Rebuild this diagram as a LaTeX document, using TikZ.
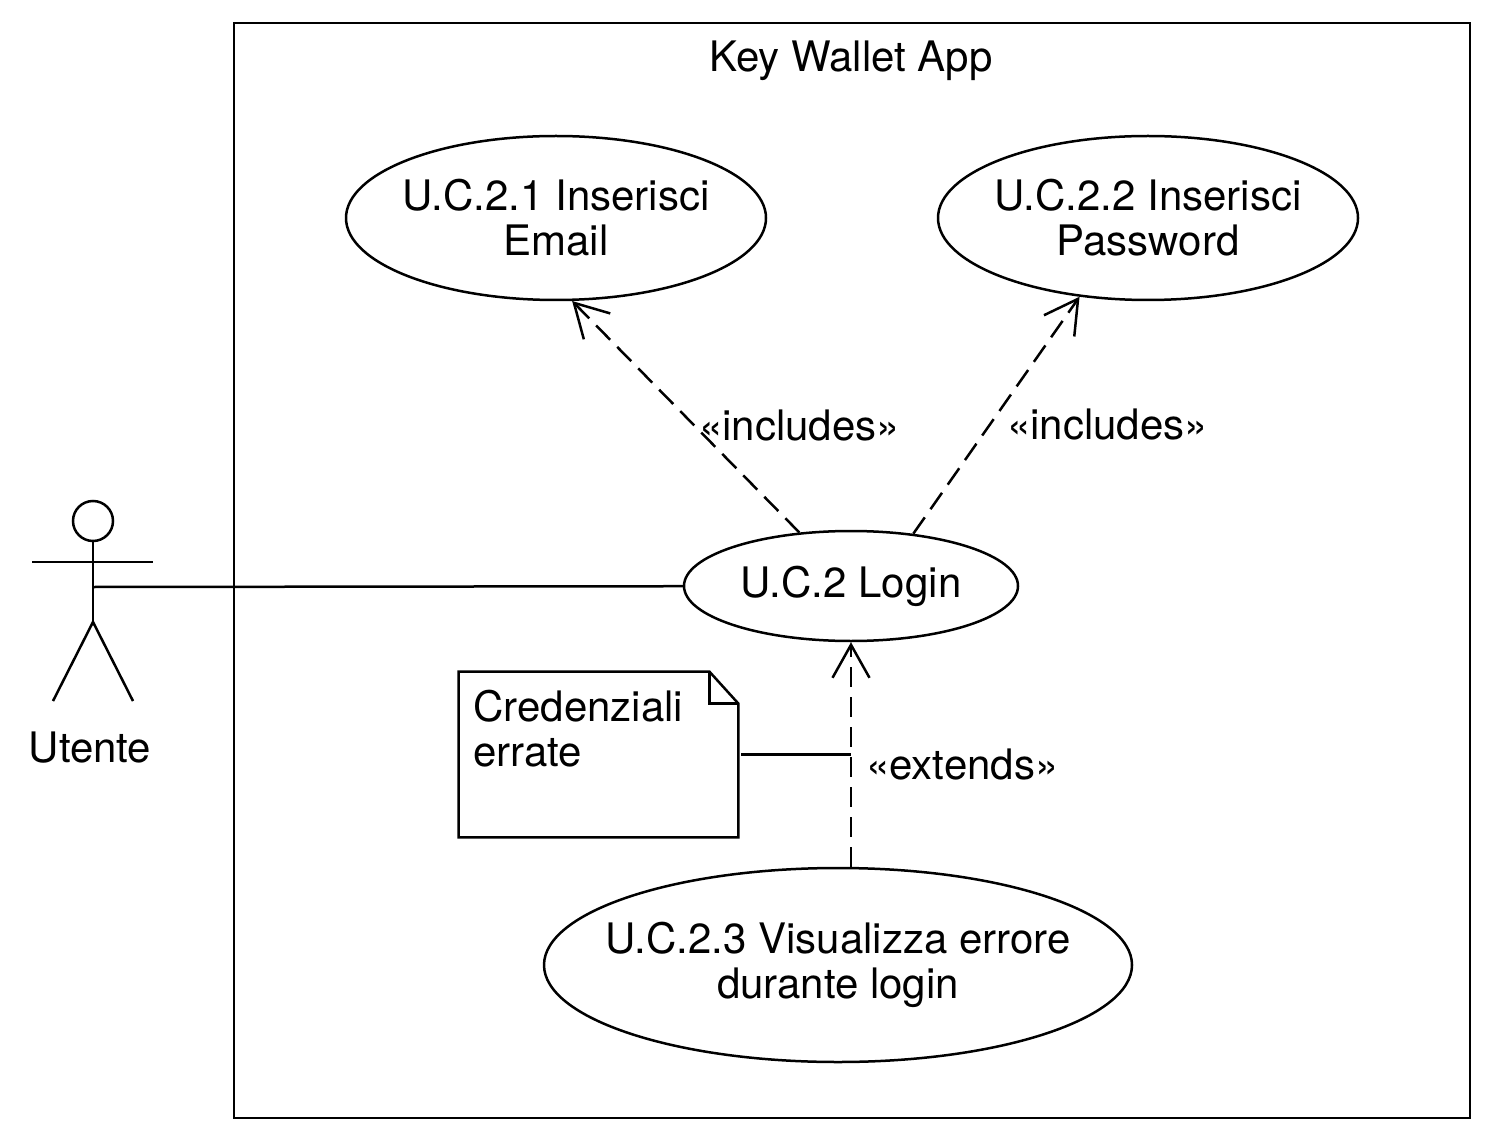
\documentclass[tikz,border=0pt]{standalone}
\usepackage{fontspec}
\setmainfont{TeX Gyre Heros}
\usetikzlibrary{shapes.geometric, arrows.meta, positioning}

\begin{document}
\begin{tikzpicture}[
    x=0.5pt, y=-0.5pt,
    usecase/.style={ellipse, draw=black, line width=1.25pt, inner sep=-40pt, align=center, font=\fontsize{21}{22.5}\selectfont},
    sysbox/.style={draw=black, line width=1.25pt},
    notebox/.style={draw=black, line width=1.25pt, line join=miter},
    stick/.style={draw=black, line width=1.25pt},
    assoc/.style={line width=1.25pt, black},
    dep/.style={-{Straight Barb[length=16.5pt, width=18.5pt]}, line width=1.25pt, black, dash pattern=on 10pt off 5pt},
    lbl/.style={font=\fontsize{21}{22.5}\selectfont, inner sep=0pt},
]
\useasboundingbox (0,0) rectangle (1498,1144);

% System boundary
\draw[sysbox] (234,23) rectangle (1470,1118);
\node[lbl] (title) at (851,61) {Key Wallet App};

% Use cases
\node[usecase, minimum width=210pt, minimum height=82pt] (uc21) at (556,218) {U.C.2.1 Inserisci\\Email};
\node[usecase, minimum width=210pt, minimum height=82pt] (uc22) at (1148,218) {U.C.2.2 Inserisci\\Password};
\node[usecase, minimum width=167pt, minimum height=55pt] (login) at (851,586) {U.C.2 Login};
\node[usecase, minimum width=294pt, minimum height=97pt] (uc23) at (838,965) {U.C.2.3 Visualizza errore\\durante login};

% Actor
\draw[stick] (93,521) circle (20);
\draw[stick] (93,541) -- (93,622);
\draw[stick] (32,562) -- (153,562);
\draw[stick] (53,701) -- (93,622) -- (133,701);
\coordinate (actor) at (93,587);
\node[lbl] (utente) at (90,748) {Utente};

% Note
\node[minimum width=139.5pt, minimum height=82.5pt, inner sep=0pt] (note) at (598.5,754.5) {};
\draw[notebox] (note.north west) -- ([xshift=-14.5pt]note.north east) -- ([yshift=-16pt]note.north east) -- (note.south east) -- (note.south west) -- cycle;
\draw[notebox] ([xshift=-14.5pt]note.north east) |- ([yshift=-16pt]note.north east);
\node[lbl, anchor=north west, align=left] (notetext) at (473,690) {Credenziali\\errate};

% Associations
\draw[assoc] (actor) -- (login);
\draw[dep] (login.134) -- node[lbl, pos=0.46, anchor=west, xshift=1.5pt] {«includes»} (uc21.-79);
\draw[dep] (login.40) -- node[lbl, pos=0.46, anchor=west, xshift=8pt] {«includes»} (uc22.-131);
\draw[dep] (login.south |- uc23.north) -- coordinate[pos=0.5] (extmid) node[lbl, pos=0.454, anchor=west, xshift=7pt] {«extends»} (login.south);
\draw[assoc] ([xshift=1.5pt]note.east) -- (note.east -| extmid);

\end{tikzpicture}
\end{document}
